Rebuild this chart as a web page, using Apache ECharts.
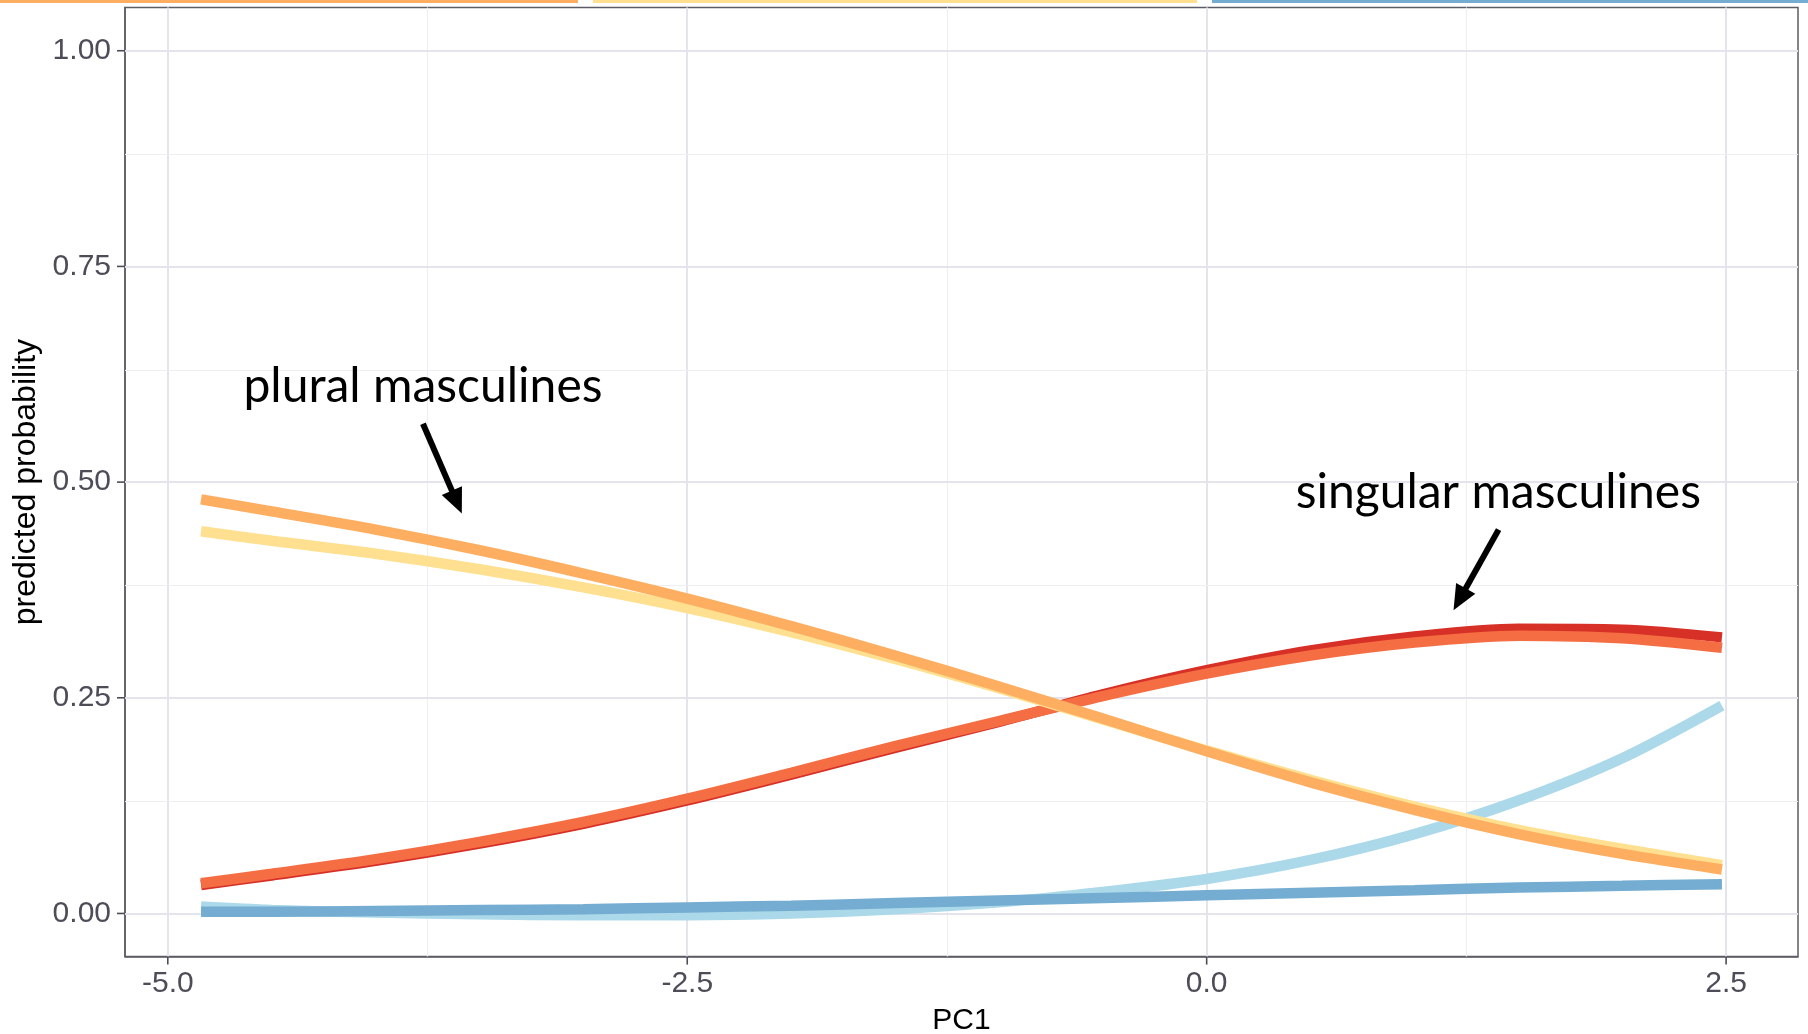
<!DOCTYPE html>
<html>
<head>
<meta charset="utf-8">
<script src="https://cdn.jsdelivr.net/npm/echarts@6/dist/echarts.min.js"></script>
<style>
  html, body { margin: 0; padding: 0; background: #ffffff; }
  #main { width: 1808px; height: 1034px; }
</style>
</head>
<body>
<div id="main"></div>
<script>
// ---------------- data ----------------
const pc1 = [-4.84, -4.5, -4, -3.5, -3, -2.5, -2, -1.5, -1, -0.5, 0, 0.5, 1, 1.5, 2, 2.48];

const seriesNames = ['sg. masc. (a)', 'sg. masc. (b)', 'other (a)', 'pl. masc. (b)', 'pl. masc. (a)', 'other (b)'];
const seriesColors = ['#d73027', '#f46d43', '#abd9e9', '#fee090', '#fdae61', '#74add1'];

const darkRed   = [0.033, 0.044, 0.061, 0.081, 0.104, 0.131, 0.161, 0.192, 0.222, 0.254, 0.282, 0.305, 0.321, 0.330, 0.329, 0.320];
const orangeRed = [0.035, 0.046, 0.063, 0.083, 0.106, 0.133, 0.163, 0.194, 0.223, 0.252, 0.278, 0.299, 0.314, 0.322, 0.319, 0.308];
const lightBlue = [0.008, 0.004, 0.001, -0.001, -0.002, -0.002, 0.000, 0.005, 0.013, 0.025, 0.040, 0.062, 0.092, 0.131, 0.180, 0.241];
const yellow    = [0.443, 0.432, 0.417, 0.399, 0.378, 0.354, 0.326, 0.295, 0.261, 0.225, 0.189, 0.155, 0.124, 0.097, 0.075, 0.056];
const orange    = [0.480, 0.466, 0.445, 0.421, 0.394, 0.365, 0.333, 0.299, 0.263, 0.226, 0.188, 0.152, 0.120, 0.092, 0.069, 0.051];
const darkBlue  = [0.002, 0.002, 0.003, 0.004, 0.005, 0.007, 0.009, 0.012, 0.015, 0.018, 0.021, 0.024, 0.027, 0.030, 0.032, 0.034];
const allValues = [darkRed, orangeRed, lightBlue, yellow, orange, darkBlue];

const xTicks = [-5, -2.5, 0, 2.5];
const xMinorGrid = [-3.75, -1.25, 1.25];
const yTicks = [0, 0.25, 0.5, 0.75, 1];
const yMinorGrid = [0.125, 0.375, 0.625, 0.875];

const annotationTexts = ['plural masculines', 'singular masculines'];
const annotationCenters = [[-3.772, 0.6107], [1.4035, 0.4877]];
const arrowStarts = [[-3.772, 0.5677], [1.405, 0.4449]];
const arrowEnds = [[-3.585, 0.4635], [1.188, 0.3515]];

// ---------------- chart ----------------
const chart = echarts.init(document.getElementById('main'), null, { renderer: 'canvas' });

const axisFont = 'Liberation Sans';
const tickColor = '#4d4d58';
const borderColor = '#5c5c64';
const X_MIN = -5.206, X_MAX = 2.846, Y_MIN = -0.05, Y_MAX = 1.05;

const gridLines = [];
xTicks.forEach(v => gridLines.push({ xAxis: v, lineStyle: { color: '#e4e4ec', width: 2, type: 'solid' } }));
xMinorGrid.forEach(v => gridLines.push({ xAxis: v, lineStyle: { color: '#eeeef3', width: 1.2, type: 'solid' } }));
yTicks.forEach(v => gridLines.push({ yAxis: v, lineStyle: { color: '#e4e4ec', width: 2, type: 'solid' } }));
yMinorGrid.forEach(v => gridLines.push({ yAxis: v, lineStyle: { color: '#eeeef3', width: 1.2, type: 'solid' } }));

const series = [{
  type: 'line',
  name: 'grid',
  data: [],
  z: 1,
  silent: true,
  markLine: {
    z: 1,
    silent: true,
    symbol: ['none', 'none'],
    label: { show: false },
    lineStyle: { type: 'solid' },
    emphasis: { disabled: true },
    animation: false,
    data: gridLines
  }
}];

allValues.forEach((vals, i) => {
  series.push({
    type: 'line',
    name: seriesNames[i],
    data: pc1.map((x, j) => [x, vals[j]]),
    smooth: 0.3,
    showSymbol: false,
    symbol: 'none',
    z: 10 + i,
    lineStyle: { color: seriesColors[i], width: 10.5, cap: 'butt' },
    itemStyle: { color: seriesColors[i] },
    animation: false
  });
});

const option = {
  animation: false,
  backgroundColor: '#ffffff',
  grid: {
    left: 125, right: 10, top: 7.6, bottom: 77.4,
    outerBoundsMode: 'none',
    containLabel: false,
    show: true, borderColor: borderColor, borderWidth: 1.5, backgroundColor: '#ffffff'
  },
  xAxis: {
    type: 'value',
    min: X_MIN, max: X_MAX,
    name: 'PC1',
    nameLocation: 'middle',
    nameGap: 49,
    nameTextStyle: { fontFamily: axisFont, fontSize: 30, color: '#000000' },
    axisLine: { show: true, onZero: false, lineStyle: { color: borderColor, width: 1.5 } },
    splitLine: { show: false },
    axisTick: { show: false },
    axisLabel: {
      customValues: xTicks, fontFamily: axisFont, fontSize: 30, color: tickColor, margin: 12,
      formatter: v => v.toFixed(1)
    }
  },
  yAxis: {
    type: 'value',
    min: Y_MIN, max: Y_MAX,
    name: 'predicted probability',
    nameLocation: 'middle',
    nameGap: 82,
    nameTextStyle: { fontFamily: axisFont, fontSize: 32, color: '#000000' },
    axisLine: { show: true, onZero: false, lineStyle: { color: borderColor, width: 1.5 } },
    splitLine: { show: false },
    axisTick: { show: false },
    axisLabel: {
      customValues: yTicks, fontFamily: axisFont, fontSize: 30, color: tickColor, margin: 14,
      formatter: v => v.toFixed(2)
    }
  },
  series: series
};

chart.setOption(option);

// ---------------- ticks & annotations (placed through the chart's scales) ----------------
function px(p) { return chart.convertToPixel({ gridIndex: 0 }, p); }
const graphics = [];
// clipped legend strip remnants at the very top
graphics.push({ type: 'rect', shape: { x: 0, y: 0, width: 578, height: 3 }, style: { fill: '#fdae61' } });
graphics.push({ type: 'rect', shape: { x: 593, y: 0, width: 604, height: 3 }, style: { fill: '#fee090' } });
graphics.push({ type: 'rect', shape: { x: 1212, y: 0, width: 596, height: 3 }, style: { fill: '#74add1' } });

// axis ticks (outside)
const TICK = 8;
xTicks.forEach(v => {
  const p = px([v, Y_MIN]);
  graphics.push({ type: 'line', z: 40, shape: { x1: p[0], y1: p[1], x2: p[0], y2: p[1] + TICK },
    style: { stroke: tickColor, lineWidth: 1.6 } });
});
yTicks.forEach(v => {
  const p = px([X_MIN, v]);
  graphics.push({ type: 'line', z: 40, shape: { x1: p[0] - TICK, y1: p[1], x2: p[0], y2: p[1] },
    style: { stroke: tickColor, lineWidth: 1.6 } });
});

annotationTexts.forEach((t, i) => {
  const c = px(annotationCenters[i]);
  graphics.push({
    type: 'text', z: 50,
    style: {
      text: t, x: c[0], y: c[1],
      font: '48px Lato', fontFamily: 'Lato', fontSize: 48,
      fill: '#000000', textAlign: 'center', textVerticalAlign: 'middle',
      align: 'center', verticalAlign: 'middle'
    }
  });
  const s = px(arrowStarts[i]);
  const e = px(arrowEnds[i]);
  const dx = e[0] - s[0], dy = e[1] - s[1];
  const len = Math.sqrt(dx * dx + dy * dy);
  const ux = dx / len, uy = dy / len;
  const L = 25, W = 11;
  const bx = e[0] - ux * L, by = e[1] - uy * L;
  graphics.push({
    type: 'line', z: 50,
    shape: { x1: s[0], y1: s[1], x2: bx + ux * 3, y2: by + uy * 3 },
    style: { stroke: '#000000', lineWidth: 6 }
  });
  graphics.push({
    type: 'polygon', z: 50,
    shape: { points: [[e[0], e[1]], [bx - uy * W, by + ux * W], [bx + uy * W, by - ux * W]] },
    style: { fill: '#000000' }
  });
});
chart.setOption({ graphic: graphics });
</script>
</body>
</html>
